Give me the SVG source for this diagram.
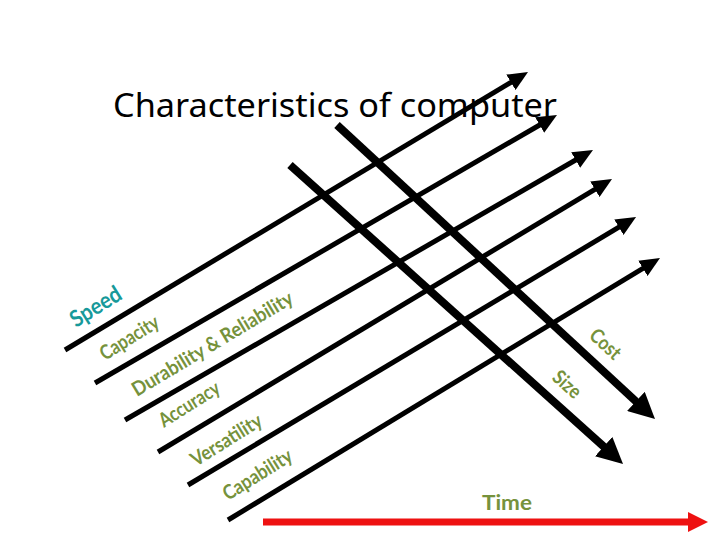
<svg xmlns="http://www.w3.org/2000/svg" width="720" height="540" viewBox="0 0 720 540">
<style>
.title{font-family:"Noto Sans","Open Sans","Liberation Sans",sans-serif;font-size:33px;fill:#000}
.lbl{font-family:Lato,"Liberation Sans",sans-serif;font-weight:bold;font-size:20px;fill:#76923c}
.spd{font-family:Lato,"Liberation Sans",sans-serif;font-weight:bold;font-size:23px;fill:#17999a}
.thin{stroke:#000;stroke-width:5;fill:none;marker-end:url(#ah)}
.thick{stroke:#000;stroke-width:8;fill:none;marker-end:url(#ahb)}
.red{stroke:#ee1111;stroke-width:7;fill:none;marker-end:url(#ahr)}
</style>
<defs>
<marker id="ah" viewBox="0 0 20 18" refX="2" refY="9" markerWidth="20" markerHeight="18" markerUnits="userSpaceOnUse" orient="auto"><path d="M0,0 L20,9 L0,18 z" fill="#000"/></marker>
<marker id="ahb" viewBox="0 0 26 26" refX="3" refY="13" markerWidth="26" markerHeight="26" markerUnits="userSpaceOnUse" orient="auto"><path d="M0,0 L26,13 L0,26 z" fill="#000"/></marker>
<marker id="ahr" viewBox="0 0 20 20" refX="2" refY="10" markerWidth="20" markerHeight="20" markerUnits="userSpaceOnUse" orient="auto"><path d="M0,0 L20,10 L0,20 z" fill="#ee1111"/></marker>
</defs>
<rect width="720" height="540" fill="#fff"/>
<g id="title"><text class="title" x="113" y="117" textLength="444" lengthAdjust="spacingAndGlyphs">Characteristics of computer</text></g>
<g id="connectors">
<line class="thin" x1="65" y1="350" x2="512.6" y2="81.3"/>
<line class="thin" x1="95" y1="383" x2="541.4" y2="124"/>
<line class="thin" x1="125" y1="420" x2="577.4" y2="159"/>
<line class="thin" x1="158" y1="452" x2="596.6" y2="188.3"/>
<line class="thin" x1="188" y1="485" x2="620.6" y2="226.2"/>
<line class="thin" x1="228" y1="520" x2="644.6" y2="267.3"/>
<line class="thick" x1="337" y1="125" x2="638.1" y2="403.4"/>
<line class="thick" x1="290" y1="165" x2="605.9" y2="448.6"/>
<line class="red" x1="263" y1="522" x2="690" y2="522"/>
</g>
<g id="speed"><text class="spd" transform="translate(76,328) rotate(-32)" textLength="56" lengthAdjust="spacingAndGlyphs">Speed</text></g>
<g id="capacity"><text class="lbl" transform="translate(105,361) rotate(-32)" textLength="66" lengthAdjust="spacingAndGlyphs">Capacity</text></g>
<g id="durability"><text class="lbl" transform="translate(137,397) rotate(-31)" textLength="184" lengthAdjust="spacingAndGlyphs">Durability &amp; Reliability</text></g>
<g id="accuracy"><text class="lbl" transform="translate(164,428) rotate(-32)" textLength="68" lengthAdjust="spacingAndGlyphs">Accuracy</text></g>
<g id="versatility"><text class="lbl" transform="translate(196,467) rotate(-32)" textLength="80" lengthAdjust="spacingAndGlyphs">Versatility</text></g>
<g id="capability"><text class="lbl" transform="translate(228,501) rotate(-32)" textLength="78" lengthAdjust="spacingAndGlyphs">Capability</text></g>
<g id="cost"><text class="lbl" transform="translate(588,337) rotate(43)" textLength="35" lengthAdjust="spacingAndGlyphs">Cost</text></g>
<g id="size"><text class="lbl" transform="translate(551,379) rotate(42)" textLength="31" lengthAdjust="spacingAndGlyphs">Size</text></g>
<g id="time"><text class="lbl" x="482" y="510" textLength="50" lengthAdjust="spacingAndGlyphs" style="font-size:21px">Time</text></g>
</svg>
